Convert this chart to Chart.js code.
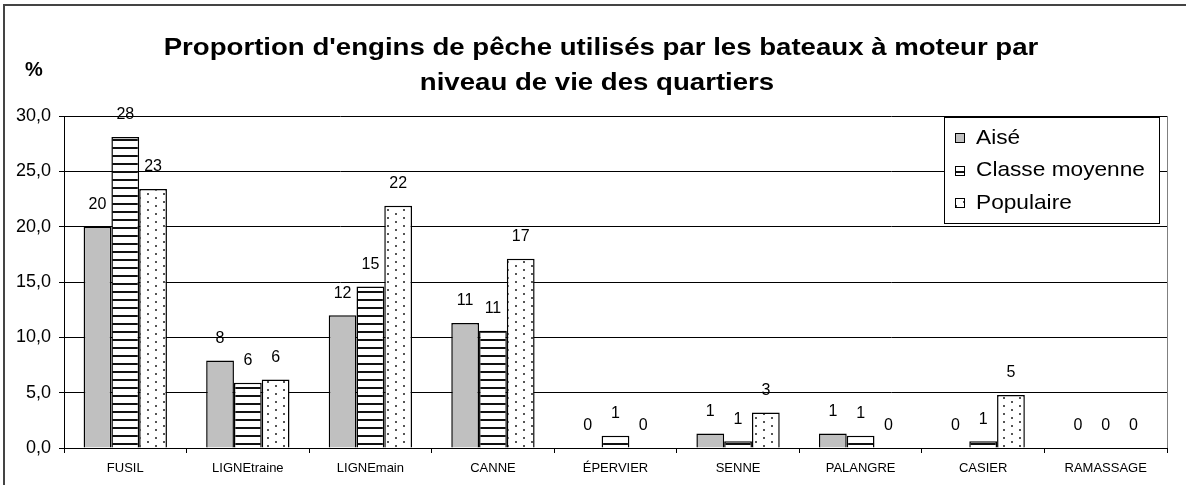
<!DOCTYPE html>
<html>
<head>
<meta charset="utf-8">
<title>Engins de pêche</title>
<script src="https://cdn.jsdelivr.net/npm/chart.js"></script>
<style>
  body { margin: 0; background: #fff; }
  #wrap { width: 1186px; height: 485px; position: relative; }
</style>
</head>
<body>
<div id="wrap"><canvas id="enginsChart"></canvas></div>
<script>
// Engins de pêche par niveau de vie (%)
const categories = ["FUSIL", "LIGNEtraine", "LIGNEmain", "CANNE", "ÉPERVIER", "SENNE", "PALANGRE", "CASIER", "RAMASSAGE"];
const seriesNames = ["Aisé", "Classe moyenne", "Populaire"];
const aise = [20.0, 7.9, 12.0, 11.3, 0, 1.3, 1.3, 0, 0];
const classeMoyenne = [28.1, 5.9, 14.6, 10.6, 1.1, 0.6, 1.1, 0.6, 0];
const populaire = [23.4, 6.2, 21.9, 17.1, 0, 3.2, 0, 4.8, 0];
const yTicks = [0, 5, 10, 15, 20, 25, 30];

const titleLines = ["Proportion d'engins de pêche utilisés par les bateaux à moteur par", "niveau de vie des quartiers"];
const FONT = "'Liberation Sans', Arial, sans-serif";

// hatch fills
function stripePattern() {
  var c = document.createElement("canvas");
  c.width = 8; c.height = 8;
  var g = c.getContext("2d");
  g.fillStyle = "#fff";
  g.fillRect(0, 0, 8, 8);
  g.fillStyle = "#111";
  g.fillRect(0, 3, 8, 2);
  return g.createPattern(c, "repeat");
}

function dotPattern() {
  var c = document.createElement("canvas");
  c.width = 16; c.height = 8;
  var g = c.getContext("2d");
  g.fillStyle = "#fff";
  g.fillRect(0, 0, 16, 8);
  g.fillStyle = "#555";
  g.fillRect(3, 1, 2, 2);
  g.fillRect(11, 5, 2, 2);
  return g.createPattern(c, "repeat");
}

const fills = ["#c0c0c0", stripePattern(), dotPattern()];

// text drawn a bit wider than the font, like the old office export
function wideText(ctx, text, x, y, stretch) {
  ctx.save();
  ctx.translate(x, y);
  ctx.scale(stretch, 1);
  ctx.fillText(text, 0, 0);
  ctx.restore();
}

const decorPlugin = {
  id: 'decor',
  afterDraw: function(chart) {
    var ctx = chart.ctx;
    var area = chart.chartArea;
    ctx.save();

    // outer frame (top and left only)
    ctx.strokeStyle = "#444";
    ctx.lineWidth = 2;
    ctx.beginPath();
    ctx.moveTo(4, 485);
    ctx.lineTo(4, 5);
    ctx.lineTo(1186, 5);
    ctx.stroke();

    // plot area right border
    ctx.strokeStyle = "#808080";
    ctx.lineWidth = 1;
    ctx.beginPath();
    ctx.moveTo(Math.round(area.right) + 0.5, area.top);
    ctx.lineTo(Math.round(area.right) + 0.5, area.bottom);
    ctx.stroke();

    // title
    ctx.fillStyle = "#000";
    ctx.textAlign = "center";
    ctx.textBaseline = "middle";
    ctx.font = "bold 24px " + FONT;
    wideText(ctx, titleLines[0], 601, 48, 1.15);
    wideText(ctx, titleLines[1], 597, 83, 1.15);

    ctx.font = "bold 20px " + FONT;
    ctx.fillText("%", 34, 70);

    // value labels above the bars
    ctx.font = "16px " + FONT;
    chart.data.datasets.forEach(function(ds, i) {
      chart.getDatasetMeta(i).data.forEach(function(bar, j) {
        ctx.fillText(String(Math.round(ds.data[j])), bar.x, bar.y - 22);
      });
    });

    // legend box
    var lx = 944, ly = 117, lw = 215, lh = 106;
    ctx.fillStyle = "#fff";
    ctx.fillRect(lx, ly, lw, lh);
    ctx.strokeStyle = "#000";
    ctx.lineWidth = 1;
    ctx.strokeRect(lx + 0.5, ly + 0.5, lw, lh);
    ctx.textAlign = "left";
    ctx.font = "21px " + FONT;
    seriesNames.forEach(function(name, i) {
      var y = 138 + i * 32.5;
      ctx.fillStyle = fills[i];
      ctx.fillRect(955, Math.round(y) - 5, 10, 10);
      ctx.strokeStyle = "#000";
      ctx.strokeRect(955.5, Math.round(y) - 4.5, 9, 9);
      ctx.fillStyle = "#000";
      wideText(ctx, name, 976, y, 1.08);
    });

    ctx.restore();
  }
};

new Chart("enginsChart", {
  type: "bar",
  data: {
    labels: categories,
    datasets: [aise, classeMoyenne, populaire].map(function(vals, i) {
      return {
        label: seriesNames[i],
        data: vals,
        backgroundColor: fills[i],
        borderColor: "#000",
        borderWidth: 1.5,
        categoryPercentage: 0.68,
        barPercentage: 1.0
      };
    })
  },
  options: {
    responsive: true,
    maintainAspectRatio: false,
    animation: false,
    layout: { padding: { top: 116, right: 19, left: 6, bottom: 0 } },
    plugins: {
      legend: { display: false },
      tooltip: { enabled: false }
    },
    scales: {
      x: {
        grid: { offset: true, drawOnChartArea: false, color: "#000", tickLength: 5 },
        border: { color: "#000" },
        ticks: { color: "#000", font: { family: FONT, size: 13 }, padding: 8 },
        afterFit: function(scale) { scale.height = 37; }
      },
      y: {
        min: 0,
        max: 30,
        afterBuildTicks: function(scale) {
          scale.ticks = yTicks.map(function(v) { return { value: v }; });
        },
        grid: { color: "#000", tickLength: 5 },
        border: { color: "#000" },
        ticks: {
          color: "#000",
          font: { family: FONT, size: 18 },
          padding: 8,
          callback: function(v) { return v.toFixed(1).replace(".", ","); }
        },
        afterFit: function(scale) { scale.width = 58; }
      }
    }
  },
  plugins: [decorPlugin]
});
</script>
</body>
</html>
